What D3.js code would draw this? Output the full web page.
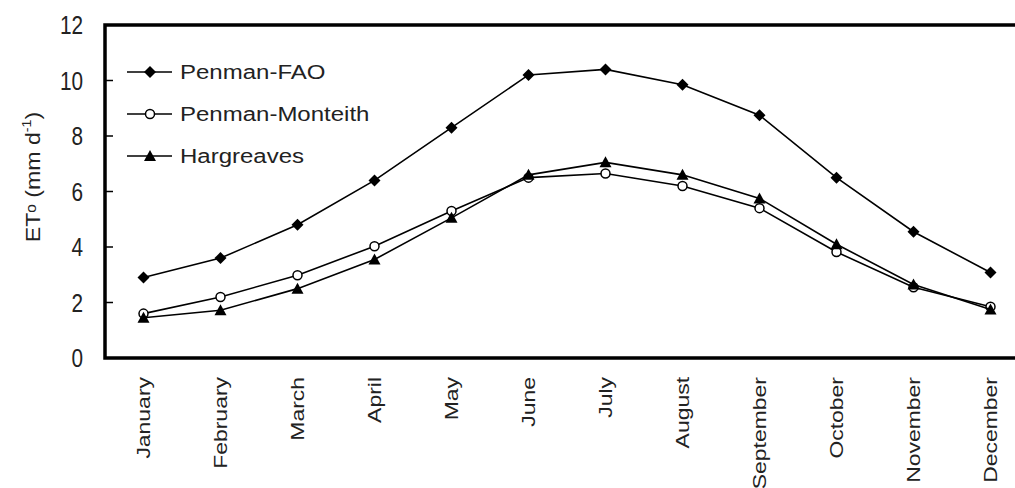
<!DOCTYPE html>
<html>
<head>
<meta charset="utf-8">
<script src="https://cdn.jsdelivr.net/npm/d3@7"></script>
<style>
  body { margin: 0; background: #fff; }
  svg { display: block; font-family: "Liberation Sans", Arial, sans-serif; }
</style>
</head>
<body>
<div id="chart"></div>
<script>
// months on the x axis
const months = ["January", "February", "March", "April", "May", "June",
    "July", "August", "September", "October", "November", "December"];

// ETo values (mm/d)
const penmanFAO = [2.9, 3.6, 4.8, 6.4, 8.3, 10.2, 10.4, 9.85, 8.75, 6.5, 4.55, 3.08];
const penmanMonteith = [1.6, 2.2, 2.98, 4.03, 5.3, 6.5, 6.65, 6.2, 5.4, 3.82, 2.55, 1.85];
const hargreaves = [1.45, 1.72, 2.5, 3.55, 5.05, 6.6, 7.05, 6.6, 5.75, 4.1, 2.65, 1.75];

const yTicks = [0, 2, 4, 6, 8, 10, 12];

const series = [
    { name: "Penman-FAO", values: penmanFAO, marker: "diamond" },
    { name: "Penman-Monteith", values: penmanMonteith, marker: "circle" },
    { name: "Hargreaves", values: hargreaves, marker: "triangle" }
];

const W = 1015, H = 488;
const plotLeft = 105, plotTop = 25, plotBottom = 358, plotRight = 1029;

const svg = d3.select("#chart").append("svg")
    .attr("width", W)
    .attr("height", H);

const x = d3.scaleBand()
    .domain(months)
    .range([plotLeft, plotRight])
    .padding(0);

const y = d3.scaleLinear()
    .domain([0, 12])
    .range([plotBottom, plotTop]);

const cx = m => x(m) + x.bandwidth() / 2;

// squeeze or stretch a text to mimic the original font proportions
function stretch(sel, factor) {
    sel.each(function() {
        let len = this.getComputedTextLength();
        d3.select(this)
            .attr("textLength", len * factor)
            .attr("lengthAdjust", "spacingAndGlyphs");
    });
}

// inside ticks on the y axis
svg.append("g")
    .selectAll("line")
    .data(yTicks.slice(1, -1))
    .join("line")
    .attr("x1", plotLeft)
    .attr("x2", plotLeft + 8)
    .attr("y1", d => y(d))
    .attr("y2", d => y(d))
    .attr("stroke", "#000")
    .attr("stroke-width", 1.5);

// frame: left, top and bottom (right side runs off the canvas)
svg.append("path")
    .attr("d", `M${W},${plotTop}H${plotLeft}V${plotBottom}H${W}`)
    .attr("fill", "none")
    .attr("stroke", "#000")
    .attr("stroke-width", 3.5);

// y tick labels
svg.append("g")
    .selectAll("text")
    .data(yTicks)
    .join("text")
    .attr("x", 83)
    .attr("y", d => y(d))
    .attr("dy", "0.36em")
    .attr("text-anchor", "end")
    .attr("font-size", 25)
    .attr("fill", "#222")
    .text(d => d)
    .call(stretch, 0.83);

// month labels, rotated
svg.append("g")
    .selectAll("text")
    .data(months)
    .join("text")
    .attr("transform", d => `translate(${cx(d) + 6},377) rotate(-90)`)
    .attr("text-anchor", "end")
    .attr("font-size", 18.5)
    .attr("fill", "#222")
    .text(d => d)
    .call(stretch, 1.24);

// y axis title
let yLabel = svg.append("text")
    .attr("transform", "translate(40,177) rotate(-90)")
    .attr("text-anchor", "middle")
    .attr("font-size", 21)
    .attr("fill", "#222");
yLabel.append("tspan").text("ET");
yLabel.append("tspan").attr("font-size", 14).attr("dy", -4).text("o");
yLabel.append("tspan").attr("dy", 4).text(" (mm d");
yLabel.append("tspan").attr("font-size", 13).attr("dy", -9).text("-1");
yLabel.append("tspan").attr("dy", 9).text(")");
yLabel.call(stretch, 1.1);

// marker shapes
function drawMarker(g, type) {
    if (type === "diamond") {
        g.append("path")
            .attr("d", "M0,-6L6,0L0,6L-6,0Z")
            .attr("fill", "#000");
    } else if (type === "circle") {
        g.append("circle")
            .attr("r", 4.5)
            .attr("fill", "#fff")
            .attr("stroke", "#000")
            .attr("stroke-width", 1.5);
    } else {
        g.append("path")
            .attr("d", "M0,-6L6,5L-6,5Z")
            .attr("fill", "#000");
    }
}

const line = d3.line()
    .x((d, i) => cx(months[i]))
    .y(d => y(d));

series.forEach(s => {
    let g = svg.append("g");

    g.append("path")
        .datum(s.values)
        .attr("d", line)
        .attr("fill", "none")
        .attr("stroke", "#000")
        .attr("stroke-width", 1.6);

    g.selectAll(".mk")
        .data(s.values)
        .join("g")
        .attr("class", "mk")
        .attr("transform", (d, i) => `translate(${cx(months[i])},${y(d)})`)
        .each(function() { drawMarker(d3.select(this), s.marker); });
});

// legend
let legend = svg.append("g")
    .attr("transform", "translate(127,72)");

series.forEach((s, i) => {
    let row = legend.append("g")
        .attr("transform", `translate(0,${i * 42})`);

    row.append("line")
        .attr("x1", 0)
        .attr("x2", 45)
        .attr("stroke", "#000")
        .attr("stroke-width", 1.6);

    drawMarker(row.append("g").attr("transform", "translate(23,0)"), s.marker);

    row.append("text")
        .attr("x", 53)
        .attr("y", 7)
        .attr("font-size", 20)
        .attr("fill", "#222")
        .text(s.name)
        .call(stretch, 1.2);
});
</script>
</body>
</html>
